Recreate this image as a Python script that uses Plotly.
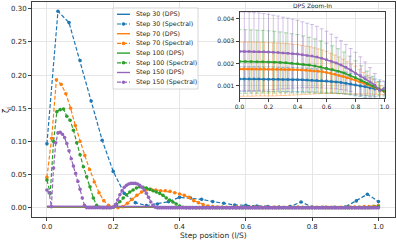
import numpy as np
import plotly.graph_objects as go

# ---------------- data ----------------
steps = [30, 70, 100, 150]
colors = ['#1f77b4', '#ff7f0e', '#2ca02c', '#9467bd']
err_colors = ['rgba(31,119,180,0.40)', 'rgba(255,127,14,0.40)',
              'rgba(44,160,44,0.40)', 'rgba(148,103,189,0.40)']

spec30 = [0.0965, 0.296, 0.279, 0.222, 0.161, 0.102, 0.055, 0.022, 0.008, 0.0035,
          0.006, 0.0095, 0.016, 0.015, 0.013, 0.0096, 0.007, 0.0045, 0.004, 0.003,
          0.002, 0.0015, 0.002, 0.009, 0.0015, 0.001, 0.001, 0.0015, 0.0106, 0.0207,
          0.0096]

spec70 = [0.046, 0.105, 0.193, 0.186, 0.172, 0.150, 0.124, 0.100, 0.079, 0.058,
          0.039, 0.023, 0.011, 0.004, 0.001, 0.0005, 0.002, 0.007, 0.013, 0.019,
          0.024, 0.027, 0.028, 0.027, 0.026, 0.026, 0.025, 0.023, 0.021, 0.019,
          0.016, 0.011, 0.008, 0.005, 0.003, 0.002, 0.0015, 0.0015, 0.001, 0.001,
          0.0015, 0.001, 0.001, 0.001, 0.0015, 0.001, 0.001, 0.001, 0.0015, 0.001,
          0.001, 0.001, 0.001, 0.0015, 0.001, 0.001, 0.001, 0.001, 0.001, 0.0015,
          0.001, 0.001, 0.001, 0.001, 0.0015, 0.0015, 0.0015, 0.002, 0.002, 0.0025,
          0.0035]

spec100 = [0.042, 0.022, 0.100, 0.145, 0.148, 0.149, 0.138, 0.132, 0.117, 0.098,
           0.080, 0.062, 0.047, 0.032, 0.015, 0.004, 0.001, 0.0005, 0.0005, 0.0005,
           0.001, 0.005, 0.0096, 0.015, 0.020, 0.024, 0.027, 0.030, 0.032, 0.031,
           0.030, 0.028, 0.026, 0.024, 0.022, 0.019, 0.015, 0.012, 0.009, 0.006,
           0.003, 0.001, 0.0005, 0.0005, 0.0005, 0.0005, 0.0005, 0.0005, 0.0005, 0.0005,
           0.0005, 0.0005, 0.0005, 0.0005, 0.0005, 0.0005, 0.0005, 0.0005, 0.0005, 0.0005,
           0.0005, 0.0005, 0.0005, 0.0005, 0.0005, 0.0005, 0.0005, 0.0005, 0.0005, 0.0005,
           0.0005, 0.0005, 0.0005, 0.0005, 0.0005, 0.0005, 0.0005, 0.0005, 0.0005, 0.0005,
           0.0005, 0.0005, 0.0005, 0.0005, 0.0005, 0.0005, 0.0005, 0.0005, 0.0005, 0.0005,
           0.0005, 0.0005, 0.0005, 0.0005, 0.0005, 0.0005, 0.0005, 0.0005, 0.001, 0.0015,
           0.002]

spec150 = [0.027, 0.023, 0.002, 0.060, 0.098, 0.113, 0.114, 0.111, 0.106, 0.097,
           0.086, 0.074, 0.063, 0.052, 0.040, 0.028, 0.015, 0.004, 0.0003, 0.0003,
           0.0003, 0.0003, 0.0003, 0.0003, 0.0003, 0.0003, 0.0003, 0.0003, 0.0003, 0.0003,
           0.001, 0.005, 0.012, 0.020, 0.026, 0.031, 0.034, 0.036, 0.037, 0.037,
           0.037, 0.036, 0.034, 0.031, 0.027, 0.022, 0.016, 0.009, 0.004, 0.001,
           0.0002, 0.0002, 0.0002, 0.0002, 0.0002, 0.0002, 0.0002, 0.0002, 0.0002, 0.0002,
           0.0002, 0.0002, 0.0002, 0.0002, 0.0002, 0.0002, 0.0002, 0.0002, 0.0002, 0.0002,
           0.0002, 0.0002, 0.0002, 0.0002, 0.0002, 0.0002, 0.0002, 0.0002, 0.0002, 0.0002,
           0.0002, 0.0002, 0.0002, 0.0002, 0.0002, 0.0002, 0.0002, 0.0002, 0.0002, 0.0002,
           0.0002, 0.0002, 0.0002, 0.0002, 0.0002, 0.0002, 0.0002, 0.0002, 0.0002, 0.0002,
           0.0002, 0.0002, 0.0002, 0.0002, 0.0002, 0.0002, 0.0002, 0.0002, 0.0002, 0.0002,
           0.0002, 0.0002, 0.0002, 0.0002, 0.0002, 0.0002, 0.0002, 0.0002, 0.0002, 0.0002,
           0.0002, 0.0002, 0.0002, 0.0002, 0.0002, 0.0002, 0.0002, 0.0002, 0.0002, 0.0002,
           0.0002, 0.0002, 0.0002, 0.0002, 0.0002, 0.0002, 0.0002, 0.0002, 0.0002, 0.0002,
           0.0002, 0.0002, 0.0002, 0.0002, 0.0002, 0.0002, 0.0002, 0.0002, 0.0002, 0.0002,
           0.0002]

# DPS mean / std (x1e-3), sampled every k-th step position
dps_every = [1, 2, 4, 5]
dps30_mean = [1.31, 1.31, 1.31, 1.31, 1.31, 1.30, 1.30, 1.30, 1.30, 1.29, 1.29, 1.28, 1.28,
              1.27, 1.26, 1.25, 1.24, 1.23, 1.22, 1.20, 1.18, 1.15, 1.12, 1.08, 1.04, 1.00,
              0.96, 0.91, 0.86, 0.82, 0.78]
dps30_std = [0.55, 0.55, 0.55, 0.55, 0.55, 0.55, 0.55, 0.55, 0.54, 0.54, 0.54, 0.54, 0.53,
             0.53, 0.53, 0.52, 0.52, 0.51, 0.51, 0.50, 0.50, 0.49, 0.49, 0.48, 0.48, 0.47,
             0.47, 0.46, 0.45, 0.45, 0.44]
dps70_mean = [1.75, 1.75, 1.75, 1.75, 1.75, 1.75, 1.75, 1.74, 1.74, 1.74, 1.74, 1.73, 1.73,
              1.72, 1.72, 1.71, 1.70, 1.69, 1.67, 1.65, 1.63, 1.60, 1.56, 1.52, 1.47, 1.42,
              1.36, 1.31, 1.26, 1.19, 1.12, 1.05, 0.97, 0.89, 0.81, 0.75]
dps70_std = [1.21, 1.21, 1.21, 1.21, 1.20, 1.20, 1.20, 1.19, 1.19, 1.18, 1.17, 1.16, 1.15,
             1.13, 1.12, 1.10, 1.08, 1.06, 1.03, 1.00, 0.97, 0.94, 0.90, 0.86, 0.82, 0.77,
             0.72, 0.67, 0.62, 0.55, 0.48, 0.41, 0.34, 0.27, 0.20, 0.14]
dps100_mean = [2.09, 2.09, 2.09, 2.08, 2.08, 2.07, 2.06, 2.05, 2.03, 2.01, 1.99, 1.96, 1.93,
               1.89, 1.84, 1.79, 1.73, 1.66, 1.58, 1.48, 1.36, 1.24, 1.11, 0.99, 0.87, 0.75]
dps100_std = [1.42, 1.42, 1.41, 1.41, 1.40, 1.39, 1.38, 1.36, 1.34, 1.32, 1.30, 1.27, 1.24,
              1.21, 1.17, 1.12, 1.06, 1.00, 0.93, 0.85, 0.76, 0.66, 0.55, 0.44, 0.32, 0.20]
dps150_mean = [2.54, 2.54, 2.54, 2.53, 2.53, 2.52, 2.51, 2.50, 2.49, 2.47, 2.46, 2.44, 2.42,
               2.39, 2.36, 2.33, 2.29, 2.23, 2.17, 2.10, 2.02, 1.93, 1.83, 1.71, 1.57, 1.45,
               1.32, 1.18, 1.03, 0.80, 0.90]
dps150_std = [1.76, 1.76, 1.75, 1.74, 1.73, 1.71, 1.69, 1.66, 1.63, 1.60, 1.57, 1.54, 1.51,
              1.47, 1.44, 1.41, 1.37, 1.32, 1.27, 1.21, 1.15, 1.09, 1.02, 0.96, 0.93, 0.85,
              0.75, 0.64, 0.52, 0.40, 0.30]

spec_all = [spec30, spec70, spec100, spec150]
dps_mean_all = [dps30_mean, dps70_mean, dps100_mean, dps150_mean]
dps_std_all = [dps30_std, dps70_std, dps100_std, dps150_std]

main_xticks = [0.0, 0.2, 0.4, 0.6, 0.8, 1.0]
main_yticks = [0.00, 0.05, 0.10, 0.15, 0.20, 0.25, 0.30]
inset_yticks = [0.001, 0.002, 0.003, 0.004]

# ---------------- layout geometry ----------------
W, H = 397, 241
ML, MR, MT, MB = 32, 2, 2, 24
PW, PH = W - ML - MR, H - MT - MB


def px_x(p):
    return (p - ML) / PW


def px_y(p):
    return (H - MB - p) / PH


FONT = 'DejaVu Sans'
fig = go.Figure()

# main traces
for s, col, spec, dm in zip(steps, colors, spec_all, dps_mean_all):
    k = dps_every[steps.index(s)]
    xd = np.arange(0, s + 1, k) / s
    fig.add_trace(go.Scatter(x=xd, y=np.array(dm) * 1e-3, mode='lines',
                             line=dict(color=col, width=1.4), xaxis='x', yaxis='y',
                             showlegend=False, hoverinfo='skip'))
    xs = np.arange(len(spec)) / (len(spec) - 1)
    fig.add_trace(go.Scatter(x=xs, y=spec, mode='lines+markers',
                             line=dict(color=col, width=1.2, dash='4px,2px'),
                             marker=dict(color=col, size=3.6), xaxis='x', yaxis='y',
                             showlegend=False, hoverinfo='skip'))

# inset: error bars then lines
for s, ec, dm, ds in zip(steps, err_colors, dps_mean_all, dps_std_all):
    k = dps_every[steps.index(s)]
    xd = np.arange(0, s + 1, k) / s
    fig.add_trace(go.Scatter(x=xd, y=np.array(dm) * 1e-3, mode='markers',
                             marker=dict(size=1, color=ec),
                             error_y=dict(type='data', array=np.array(ds) * 1e-3, visible=True,
                                          color=ec, thickness=1, width=2),
                             xaxis='x2', yaxis='y2', showlegend=False, hoverinfo='skip'))
for s, col, dm in zip(steps, colors, dps_mean_all):
    k = dps_every[steps.index(s)]
    xd = np.arange(0, s + 1, k) / s
    fig.add_trace(go.Scatter(x=xd, y=np.array(dm) * 1e-3, mode='lines+markers',
                             line=dict(color=col, width=1.6),
                             marker=dict(size=2.5, color=col, symbol='square'),
                             xaxis='x2', yaxis='y2', showlegend=False, hoverinfo='skip'))

axis_common = dict(showline=True, mirror=True, linecolor='#404040', linewidth=0.8,
                   ticks='outside', ticklen=3, tickcolor='#404040', tickwidth=0.8,
                   showgrid=True, gridcolor='#e6e6e6', gridwidth=0.8, zeroline=False,
                   automargin=False)

shapes = []
annotations = []

# manual legend
lx0, lx1 = 113, 198
ly0, ly1 = 8, 89
shapes.append(dict(type='rect', xref='paper', yref='paper', x0=px_x(lx0), x1=px_x(lx1),
                   y0=px_y(ly1), y1=px_y(ly0), fillcolor='rgba(255,255,255,0.9)',
                   line=dict(color='#cccccc', width=0.8), layer='above'))
row = 0
for s, col in zip(steps, colors):
    for kind in ['DPS', 'Spectral']:
        yy = px_y(14.3 + 9.7 * row)
        if kind == 'DPS':
            shapes.append(dict(type='line', xref='paper', yref='paper', x0=px_x(117), x1=px_x(130),
                               y0=yy, y1=yy, line=dict(color=col, width=1.4), layer='above'))
        else:
            shapes.append(dict(type='line', xref='paper', yref='paper', x0=px_x(117), x1=px_x(130),
                               y0=yy, y1=yy, line=dict(color=col, width=1.2, dash='4px,2px'),
                               layer='above'))
            shapes.append(dict(type='circle', xref='paper', yref='paper', xsizemode='pixel',
                               ysizemode='pixel', xanchor=px_x(123.5), yanchor=yy,
                               x0=-1.8, x1=1.8, y0=-1.8, y1=1.8, fillcolor=col,
                               line=dict(color=col, width=0), layer='above'))
        annotations.append(dict(xref='paper', yref='paper', x=px_x(134), y=yy,
                                text=f'Step {s} ({kind})', showarrow=False,
                                xanchor='left', yanchor='middle',
                                font=dict(family=FONT, size=6.3, color='#262626')))
        row += 1

# inset title
annotations.append(dict(xref='paper', yref='paper', x=px_x(312), y=px_y(5.5),
                        text='DPS Zoom-In', showarrow=False, xanchor='center', yanchor='middle',
                        font=dict(family=FONT, size=6, color='#262626')))
# axis titles
annotations.append(dict(xref='paper', yref='paper', x=px_x(213), y=px_y(235.5),
                        text='Step position (l/S)', showarrow=False, xanchor='center',
                        yanchor='middle', font=dict(family=FONT, size=7.5, color='#262626')))
annotations.append(dict(xref='paper', yref='paper', x=px_x(7), y=px_y(110),
                        text='ζ<sub>l</sub>', showarrow=False, xanchor='center', textangle=-90,
                        yanchor='middle', font=dict(family=FONT, size=8, color='#262626')))

fig.update_layout(
    width=W, height=H,
    margin=dict(l=ML, r=MR, t=MT, b=MB, pad=0),
    paper_bgcolor='white', plot_bgcolor='white',
    font=dict(family=FONT, size=7, color='#262626'),
    showlegend=False,
    xaxis=dict(domain=[0, 1], range=[-0.045, 1.05], tickvals=main_xticks,
               ticktext=[f'{v:.1f}' for v in main_xticks], anchor='y',
               tickfont=dict(size=6.8), **axis_common),
    yaxis=dict(domain=[0, 1], range=[-0.0136, 0.31], tickvals=main_yticks,
               ticktext=[f'{v:.2f}' for v in main_yticks], anchor='x', **axis_common),
    xaxis2=dict(domain=[px_x(239.5), px_x(384.5)], range=[0, 1], anchor='y2',
                tickvals=main_xticks, ticktext=[f'{v:.1f}' for v in main_xticks],
                tickfont=dict(size=6), **axis_common),
    yaxis2=dict(domain=[px_y(98), px_y(12)], range=[0.00046, 0.0043], anchor='x2',
                tickvals=inset_yticks, ticktext=[f'{v:.3f}' for v in inset_yticks],
                tickfont=dict(size=6), **axis_common),
    shapes=shapes,
    annotations=annotations,
)

fig.write_html('out.html', config={'displayModeBar': False},
               post_script="document.body.style.margin='0';document.body.style.overflow='hidden';")
